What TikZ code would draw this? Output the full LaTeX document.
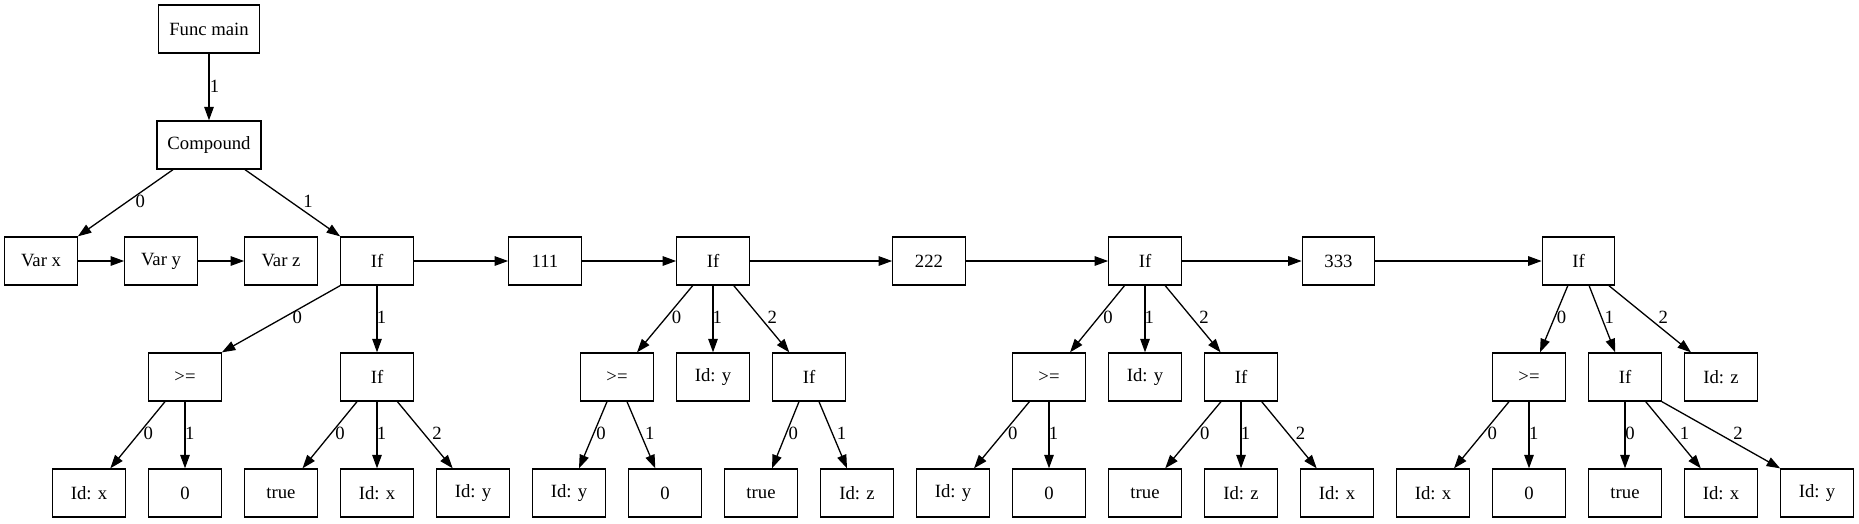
\documentclass[tikz,border=0pt]{standalone}
\usepackage{fontspec}
\setmainfont{Liberation Serif}
\usetikzlibrary{arrows.meta,calc}
\begin{document}
\begin{tikzpicture}[x=1pt,y=-1pt,
  box/.style={draw, line width=1.3pt, minimum width=72.4pt, minimum height=48pt, inner xsep=10.5pt, inner ysep=2pt, font=\fontsize{18.7}{22}\selectfont},
  edge/.style={line width=1.3pt, -{Triangle[length=13.5pt,width=9.5pt]}},
  lbl/.style={inner sep=0pt, font=\fontsize{18.7}{22}\selectfont}]
\fill[white] (0,0) rectangle (1859,523);
\useasboundingbox (0,0) rectangle (1859,523);
% row 0,1
\node[box] (fm) at (209,29) {Func main};
\node[box] (cp) at (209,145) {Compound};
% row 2
\node[box] (vx) at (41,261) {Var x};
\node[box] (vy) at (161,261) {Var y};
\node[box] (vz) at (281,261) {Var z};
\node[box] (if1) at (377,261) {If};
\node[box] (n111) at (545,261) {111};
\node[box] (if2) at (713,261) {If};
\node[box] (n222) at (929,261) {222};
\node[box] (if3) at (1145,261) {If};
\node[box] (n333) at (1338.5,261) {333};
\node[box] (if4) at (1578.5,261) {If};
% row 3
\node[box] (ge1) at (185,377) {>=};
\node[box] (if1b) at (377,377) {If};
\node[box] (ge2) at (617,377) {>=};
\node[box] (idy2) at (713,377) {Id: y};
\node[box] (if2b) at (809,377) {If};
\node[box] (ge3) at (1049,377) {>=};
\node[box] (idy3) at (1145,377) {Id: y};
\node[box] (if3b) at (1241,377) {If};
\node[box] (ge4) at (1529,377) {>=};
\node[box] (if4b) at (1625,377) {If};
\node[box] (idz4) at (1721,377) {Id: z};
% row 4
\node[box] (r0) at (89,493) {Id: x};
\node[box] (r1) at (185,493) {0};
\node[box] (r2) at (281,493) {true};
\node[box] (r3) at (377,493) {Id: x};
\node[box] (r4) at (473,493) {Id: y};
\node[box] (r5) at (569,493) {Id: y};
\node[box] (r6) at (665,493) {0};
\node[box] (r7) at (761,493) {true};
\node[box] (r8) at (857,493) {Id: z};
\node[box] (r9) at (953,493) {Id: y};
\node[box] (r10) at (1049,493) {0};
\node[box] (r11) at (1145,493) {true};
\node[box] (r12) at (1241,493) {Id: z};
\node[box] (r13) at (1337,493) {Id: x};
\node[box] (r14) at (1433,493) {Id: x};
\node[box] (r15) at (1529,493) {0};
\node[box] (r16) at (1625,493) {true};
\node[box] (r17) at (1721,493) {Id: x};
\node[box] (r18) at (1817,493) {Id: y};
% row 0 -> 1
\draw[edge] (fm) -- (cp) node[lbl] at (214.5,86) {1};
% row 1 -> 2
\draw[edge] ($(cp.south)+(-36,0)$) -- (vx.north east) node[lbl] at (140.4,201.7) {0};
\draw[edge] ($(cp.south)+(36,0)$) -- (if1.north west) node[lbl] at (308,201.7) {1};
% row 2 horizontal
\draw[edge] (vx) -- (vy);
\draw[edge] (vy) -- (vz);
\draw[edge] (if1) -- (n111);
\draw[edge] (n111) -- (if2);
\draw[edge] (if2) -- (n222);
\draw[edge] (n222) -- (if3);
\draw[edge] (if3) -- (n333);
\draw[edge] (n333) -- (if4);
% row 2 -> 3
\draw[edge] (if1.south west) -- (ge1.north east) node[lbl] at (297.4,317.5) {0};
\draw[edge] (if1) -- (if1b) node[lbl] at (381.6,317.5) {1};
\draw[edge] ($(if2.south)+(-20.3,0)$) -- ($(ge2.north)+(20,0)$) node[lbl] at (676.6,317.7) {0};
\draw[edge] (if2) -- (idy2) node[lbl] at (717.4,317.7) {1};
\draw[edge] ($(if2.south)+(20.8,0)$) -- ($(if2b.north)+(-19.7,0)$) node[lbl] at (772.3,317.7) {2};
\draw[edge] ($(if3.south)+(-20.5,0)$) -- ($(ge3.north)+(21,0)$) node[lbl] at (1108,317.7) {0};
\draw[edge] (if3) -- (idy3) node[lbl] at (1149.4,317.7) {1};
\draw[edge] ($(if3.south)+(20.2,0)$) -- ($(if3b.north)+(-20.4,0)$) node[lbl] at (1204,317.7) {2};
\draw[edge] ($(if4.south)+(-10.7,0)$) -- ($(ge4.north)+(11,0)$) node[lbl] at (1561.5,317.7) {0};
\draw[edge] ($(if4.south)+(10.6,0)$) -- ($(if4b.north)+(-9.8,0)$) node[lbl] at (1609.3,317.7) {1};
\draw[edge] ($(if4.south)+(30.4,0)$) -- ($(idz4.north)+(-30,0)$) node[lbl] at (1663.3,317.7) {2};
% row 3 -> 4
\draw[edge] ($(ge1.south)+(-20,0)$) -- ($(r0.north)+(21.3,0)$) node[lbl] at (148.3,433.5) {0};
\draw[edge] (ge1) -- (r1) node[lbl] at (189.8,433.5) {1};
\draw[edge] ($(if1b.south)+(-20,0)$) -- ($(r2.north)+(21.5,0)$) node[lbl] at (340,433.5) {0};
\draw[edge] (if1b) -- (r3) node[lbl] at (381.6,433.5) {1};
\draw[edge] ($(if1b.south)+(20.4,0)$) -- ($(r4.north)+(-20.3,0)$) node[lbl] at (437,433.5) {2};
\draw[edge] ($(ge2.south)+(-10,0)$) -- ($(r5.north)+(10,0)$) node[lbl] at (601,433.3) {0};
\draw[edge] ($(ge2.south)+(10,0)$) -- ($(r6.north)+(-9.7,0)$) node[lbl] at (649.8,433.3) {1};
\draw[edge] ($(if2b.south)+(-10,0)$) -- ($(r7.north)+(11,0)$) node[lbl] at (793.3,433.3) {0};
\draw[edge] ($(if2b.south)+(10,0)$) -- ($(r8.north)+(-10,0)$) node[lbl] at (841.5,433.3) {1};
\draw[edge] ($(ge3.south)+(-19.6,0)$) -- ($(r9.north)+(21,0)$) node[lbl] at (1012.7,433.3) {0};
\draw[edge] (ge3) -- (r10) node[lbl] at (1053.5,433.3) {1};
\draw[edge] ($(if3b.south)+(-20,0)$) -- ($(r11.north)+(20.2,0)$) node[lbl] at (1204.8,433.3) {0};
\draw[edge] (if3b) -- (r12) node[lbl] at (1245.5,433.3) {1};
\draw[edge] ($(if3b.south)+(20.7,0)$) -- ($(r13.north)+(-20.3,0)$) node[lbl] at (1300.5,433.3) {2};
\draw[edge] ($(ge4.south)+(-20,0)$) -- ($(r14.north)+(21,0)$) node[lbl] at (1492.3,433.3) {0};
\draw[edge] (ge4) -- (r15) node[lbl] at (1533.8,433.3) {1};
\draw[edge] (if4b) -- (r16) node[lbl] at (1630,433.3) {0};
\draw[edge] ($(if4b.south)+(20.7,0)$) -- ($(r17.north)+(-20.2,0)$) node[lbl] at (1684.6,433.3) {1};
\draw[edge] (if4b.south east) -- (r18.north west) node[lbl] at (1738,433.3) {2};
\end{tikzpicture}
\end{document}
